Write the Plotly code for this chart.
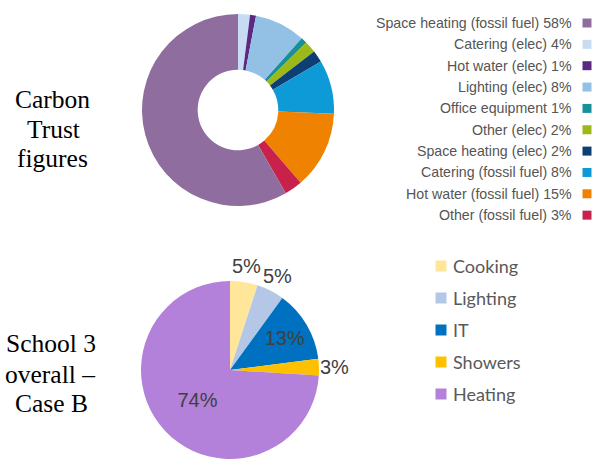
import math
import plotly.graph_objects as go

W, H = 597, 459

# ---- Carbon Trust figures (legend order) ----
ct_labels = ["Space heating (fossil fuel) 58%", "Catering (elec) 4%", "Hot water (elec) 1%",
             "Lighting (elec) 8%", "Office equipment 1%", "Other (elec) 2%",
             "Space heating (elec) 2%", "Catering (fossil fuel) 8%",
             "Hot water (fossil fuel) 15%", "Other (fossil fuel) 3%"]
ct_values = [58, 2, 1, 8.5, 1, 2, 2, 9, 13, 3]
ct_colors = ["#8F6E9F", "#C7DCF2", "#5A2A82", "#93C1E6", "#17909A", "#9CB91A",
             "#0E3F74", "#0D9AD6", "#EF8200", "#C8214C"]
# order of slices clockwise from 12 o'clock
ct_slice_order = [1, 2, 3, 4, 5, 6, 7, 8, 9, 0]

# ---- School 3 overall - Case B ----
s3_labels = ["Cooking", "Lighting", "IT", "Showers", "Heating"]
s3_values = [5, 5, 13, 3, 74]
s3_colors = ["#FFE699", "#B4C7E7", "#0070C0", "#FFC000", "#B381D9"]
s3_outside = [True, True, False, True, False]

# ---- side titles ----
title1_lines = ["Carbon", "Trust", "figures"]
title2_lines = ["School 3", "overall –", "Case B"]


def px(x):
    return x / W


def py(y):
    return 1 - y / H


fig = go.Figure()

fig.add_trace(go.Pie(
    labels=[ct_labels[i] for i in ct_slice_order],
    values=[ct_values[i] for i in ct_slice_order],
    marker=dict(colors=[ct_colors[i] for i in ct_slice_order], line=dict(width=0)),
    hole=0.42, sort=False, direction="clockwise", rotation=0,
    textinfo="none", showlegend=False, hoverinfo="label",
    domain=dict(x=[px(142), px(334)], y=[py(206), py(14)]),
))

# bottom pie geometry (pixels)
PCX, PCY, PR = 230, 370, 89
lab_font = dict(family="Liberation Sans", size=20, color="#404040")
fig.add_trace(go.Pie(
    labels=s3_labels, values=s3_values,
    marker=dict(colors=s3_colors, line=dict(width=0)),
    sort=False, direction="clockwise", rotation=0,
    textinfo="percent", texttemplate="%{percent:.0%}",
    textposition=["none" if o else "inside" for o in s3_outside],
    insidetextorientation="horizontal",
    textfont=lab_font, insidetextfont=lab_font,
    showlegend=False, hoverinfo="label+percent",
    domain=dict(x=[px(PCX - PR), px(PCX + PR)], y=[0, py(PCY - PR)]),
))

annotations = []
shapes = []

# outside percentage labels, placed at each slice's mid-angle
total = sum(s3_values)
cum = 0
for v, o in zip(s3_values, s3_outside):
    mid = (cum + v / 2) / total * 2 * math.pi
    cum += v
    if not o:
        continue
    r = PR + 16
    lx = PCX + r * math.sin(mid)
    ly = PCY - r * math.cos(mid)
    annotations.append(dict(x=px(lx), y=py(ly), xref="paper", yref="paper",
                            text=f"{round(v / total * 100)}%", showarrow=False,
                            xanchor="center", yanchor="middle", font=lab_font))

# top legend (text right, marker at right)
for i, (lab, col) in enumerate(zip(ct_labels, ct_colors)):
    yc = 23 + i * 21.35
    annotations.append(dict(x=px(574), y=py(yc), xref="paper", yref="paper",
                            text=lab, showarrow=False, xanchor="right", yanchor="middle",
                            font=dict(family="Liberation Sans", size=14.2, color="#555555")))
    shapes.append(dict(type="rect", xref="paper", yref="paper",
                       x0=px(582.5), x1=px(591.5), y0=py(yc + 4.5), y1=py(yc - 4.5),
                       fillcolor=col, line=dict(width=0)))

# bottom legend (marker left, text right)
for i, (lab, col) in enumerate(zip(s3_labels, s3_colors)):
    yc = 266 + i * 32
    annotations.append(dict(x=px(451), y=py(yc), xref="paper", yref="paper",
                            text=lab, showarrow=False, xanchor="left", yanchor="middle",
                            font=dict(family="Lato", size=18, color="#595959")))
    shapes.append(dict(type="rect", xref="paper", yref="paper",
                       x0=px(435.5), x1=px(446.5), y0=py(yc + 5.5), y1=py(yc - 5.5),
                       fillcolor=col, line=dict(width=0)))

# left side titles
serif = dict(family="Liberation Serif", size=25.5, color="#000000")
for (lines, xs, ys) in [(title1_lines, [52.5, 53, 52], [99.5, 129.5, 158.5]),
                        (title2_lines, [51, 49.5, 51.5], [343.5, 374.5, 403.5])]:
    for t, x, y in zip(lines, xs, ys):
        annotations.append(dict(x=px(x), y=py(y), xref="paper", yref="paper",
                                text=t, showarrow=False, xanchor="center",
                                yanchor="middle", font=serif))

fig.update_layout(
    width=W, height=H,
    margin=dict(l=0, r=0, t=0, b=0),
    paper_bgcolor="white", plot_bgcolor="white",
    annotations=annotations, shapes=shapes,
    showlegend=False,
)

# remove the default 8px body margin so the figure fills the window exactly
fig.write_html("out.html",
               config={"displayModeBar": False},
               post_script="document.body.style.margin='0';document.body.style.overflow='hidden';")
